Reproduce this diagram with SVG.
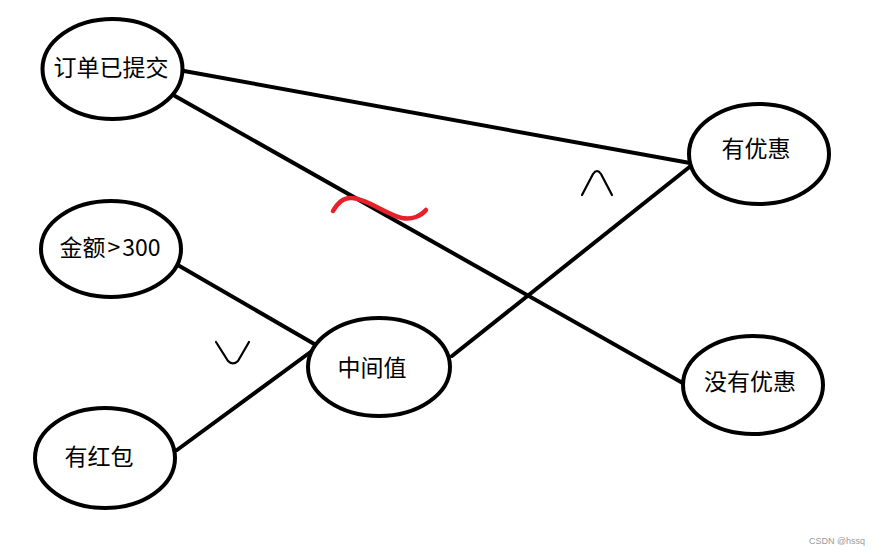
<svg xmlns="http://www.w3.org/2000/svg" width="885" height="556" viewBox="0 0 885 556">
<style>
.node ellipse{fill:#fff;stroke:#000;stroke-width:4}
.node text{font-family:"Microsoft YaHei","Noto Sans CJK SC",sans-serif;font-size:23px;fill:#000;text-anchor:middle}
.edge{stroke:#000;stroke-width:4;stroke-linecap:round;fill:none}
.mark{stroke:#000;stroke-width:2.2;fill:none;stroke-linecap:round;stroke-linejoin:round}
</style>
<rect width="885" height="556" fill="#fff"/>
<g id="connectors">
<line class="edge" x1="184" y1="71" x2="690" y2="163"/>
<line class="edge" x1="175" y1="96" x2="688" y2="386"/>
<line class="edge" x1="176" y1="264" x2="316" y2="345"/>
<line class="edge" x1="177" y1="450" x2="316" y2="348"/>
<line class="edge" x1="452" y1="356" x2="692" y2="165"/>
</g>
<g id="n-order" class="node"><ellipse cx="112.5" cy="69" rx="70" ry="50"/><text x="111" y="76">订单已提交</text></g>
<g id="n-amount" class="node"><ellipse cx="111" cy="249" rx="70" ry="48"/><text x="110" y="256">金额<tspan dx="2">&gt;</tspan><tspan dx="2">300</tspan></text></g>
<g id="n-redpacket" class="node"><ellipse cx="105" cy="458" rx="70" ry="50"/><text x="99" y="465">有红包</text></g>
<g id="n-mid" class="node"><ellipse cx="379" cy="367" rx="71" ry="49"/><text x="372" y="376">中间值</text></g>
<g id="n-discount" class="node"><ellipse cx="759" cy="154" rx="70" ry="50"/><text x="756" y="157">有优惠</text></g>
<g id="n-nodiscount" class="node"><ellipse cx="753" cy="385" rx="70" ry="49"/><text x="750" y="390">没有优惠</text></g>
<g id="marks">
<path d="M333,211 C338,202 344,197 352,198 C368,199 385,214 402,218 C412,220 421,216 426,210" stroke="#e8202a" stroke-width="4.5" fill="none" stroke-linecap="round"/>
<path class="mark" d="M582,195 L593,174 Q597,168 601,174 L612,195"/>
<path class="mark" d="M216,342 L228,361 Q233,366 238,361 L249,342"/>
<text x="837" y="544" font-family="Liberation Sans,Arial,sans-serif" font-size="9" fill="#999" text-anchor="middle">CSDN @hssq</text>
</g>
</svg>
